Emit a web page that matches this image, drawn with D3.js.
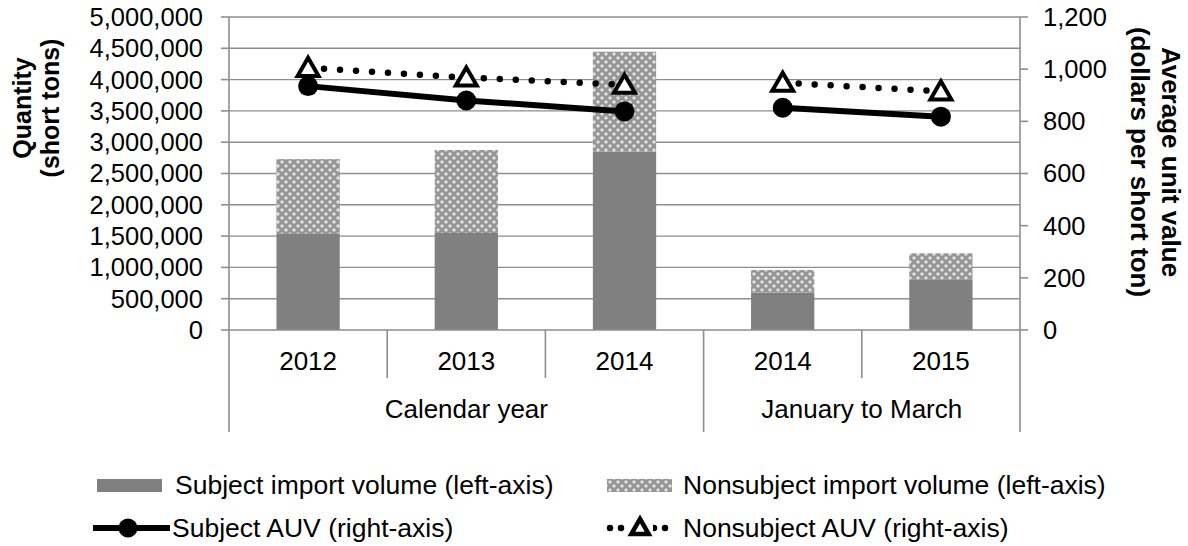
<!DOCTYPE html>
<html><head><meta charset="utf-8">
<script src="https://cdn.jsdelivr.net/npm/d3@7"></script>
<style>
body{margin:0;background:#fff}
text{font-family:"Liberation Sans",Arial,sans-serif;fill:#000}
</style>
</head><body>
<svg id="c" width="1188" height="546"></svg>
<script>
// ---- data ----
const categories = ["2012", "2013", "2014", "2014", "2015"];
const groupLabels = ["Calendar year", "January to March"];
const groupSizes = [3, 2];
const subjectVolume = [1545000, 1550000, 2850000, 600000, 810000];
const nonsubjectVolume = [1185000, 1325000, 1596000, 358000, 415000];
const subjectAUV = [935, 880, 838, 852, 818];
const nonsubjectAUV = [1005, 968, 940, 948, 915];
const leftTicks = [0, 500000, 1000000, 1500000, 2000000, 2500000, 3000000, 3500000, 4000000, 4500000, 5000000];
const rightTicks = [0, 200, 400, 600, 800, 1000, 1200];
const legendLabels = ["Subject import volume (left-axis)", "Nonsubject import volume (left-axis)", "Subject AUV (right-axis)", "Nonsubject AUV (right-axis)"];

// ---- layout ----
const L = 229, R = 1020, T = 17, B = 330;
const svg = d3.select("#c");
const idx = categories.map((d, i) => i);
const x = d3.scaleBand().domain(idx).range([L, R]).paddingInner(0.6).paddingOuter(0.3);
const step = x.step();
const yL = d3.scaleLinear().domain([0, 5000000]).range([B, T]);
const yR = d3.scaleLinear().domain([0, 1200]).range([B, T]);
const grid = "#8e8e8e";
const fmt = d3.format(",");

// pattern
const defs = svg.append("defs");
const pat = defs.append("pattern").attr("id", "conf").attr("patternUnits", "userSpaceOnUse")
  .attr("width", 8).attr("height", 8);
pat.append("rect").attr("width", 8).attr("height", 8).attr("fill", "#969696");
pat.append("path").attr("d", "M2 0.5L3.5 2L2 3.5L0.5 2Z").attr("fill", "#e2e2e2");
pat.append("path").attr("d", "M6 4.5L7.5 6L6 7.5L4.5 6Z").attr("fill", "#e2e2e2");
pat.append("rect").attr("x", 1.5).attr("y", 0).attr("width", 1).attr("height", 4).attr("fill", "#e2e2e2");
pat.append("rect").attr("x", 0).attr("y", 1.5).attr("width", 4).attr("height", 1).attr("fill", "#e2e2e2");
pat.append("rect").attr("x", 5.5).attr("y", 4).attr("width", 1).attr("height", 4).attr("fill", "#e2e2e2");
pat.append("rect").attr("x", 4).attr("y", 5.5).attr("width", 4).attr("height", 1).attr("fill", "#e2e2e2");

// gridlines
svg.append("g").selectAll("line").data(leftTicks.filter(d => d > 0)).join("line")
  .attr("x1", L).attr("x2", R).attr("y1", d => yL(d)).attr("y2", d => yL(d))
  .attr("stroke", grid).attr("stroke-width", 1.4);

// bars
const bars = svg.append("g");
bars.selectAll(".s").data(idx).join("rect").attr("class", "s")
  .attr("x", i => x(i)).attr("width", x.bandwidth())
  .attr("y", i => yL(subjectVolume[i])).attr("height", i => B - yL(subjectVolume[i]))
  .attr("fill", "#808080");
bars.selectAll(".n").data(idx).join("rect").attr("class", "n")
  .attr("x", i => x(i)).attr("width", x.bandwidth())
  .attr("y", i => yL(subjectVolume[i] + nonsubjectVolume[i]))
  .attr("height", i => yL(subjectVolume[i]) - yL(subjectVolume[i] + nonsubjectVolume[i]))
  .attr("fill", "url(#conf)");

// axes lines
const ax = svg.append("g").attr("stroke", grid).attr("stroke-width", 1.6);
ax.append("line").attr("x1", L).attr("x2", R).attr("y1", B).attr("y2", B);
ax.append("line").attr("x1", L).attr("x2", L).attr("y1", T).attr("y2", 432);
ax.append("line").attr("x1", R).attr("x2", R).attr("y1", T).attr("y2", 432);
leftTicks.forEach(t => ax.append("line").attr("x1", L - 8).attr("x2", L).attr("y1", yL(t)).attr("y2", yL(t)));
rightTicks.forEach(t => ax.append("line").attr("x1", R).attr("x2", R + 8).attr("y1", yR(t)).attr("y2", yR(t)));
// category boundaries
let acc = 0;
const groupBounds = [];
groupSizes.forEach((n, g) => {
  const start = acc, end = acc + n;
  groupBounds.push([start, end]);
  for (let k = start + 1; k < end; k++) {
    const bx = L + step * k;
    ax.append("line").attr("x1", bx).attr("x2", bx).attr("y1", B).attr("y2", 378);
  }
  if (end < categories.length) {
    const bx = L + step * end;
    ax.append("line").attr("x1", bx).attr("x2", bx).attr("y1", B).attr("y2", 432);
  }
  acc = end;
});

// tick labels
svg.append("g").selectAll("text").data(leftTicks).join("text")
  .attr("x", 203).attr("y", d => yL(d)).attr("dy", "0.35em").attr("text-anchor", "end")
  .attr("font-size", 25.5).text(d => fmt(d));
svg.append("g").selectAll("text").data(rightTicks).join("text")
  .attr("x", 1043).attr("y", d => yR(d)).attr("dy", "0.35em").attr("text-anchor", "start")
  .attr("font-size", 25.5).text(d => fmt(d));
svg.append("g").selectAll("text").data(idx).join("text")
  .attr("x", i => x(i) + x.bandwidth() / 2).attr("y", 370).attr("text-anchor", "middle")
  .attr("font-size", 26).text(i => categories[i]);
svg.append("g").selectAll("text").data(groupBounds).join("text")
  .attr("x", d => L + step * (d[0] + d[1]) / 2).attr("y", 418).attr("text-anchor", "middle")
  .attr("font-size", 26).text((d, g) => groupLabels[g]);

// axis titles
const lt = svg.append("text").attr("transform", "translate(0,108) rotate(-90)")
  .attr("text-anchor", "middle").attr("font-size", 25).attr("font-weight", "bold");
lt.append("tspan").attr("x", 0).attr("y", 31).text("Quantity");
lt.append("tspan").attr("x", 0).attr("y", 59).text("(short tons)");
const rt = svg.append("text").attr("transform", "translate(1188,162) rotate(90)")
  .attr("text-anchor", "middle").attr("font-size", 26).attr("font-weight", "bold");
rt.append("tspan").attr("x", 0).attr("y", 26).text("Average unit value");
rt.append("tspan").attr("x", 0).attr("y", 57).text("(dollars per short ton)");

// lines
const cx = i => x(i) + x.bandwidth() / 2;
const lineS = d3.line().x(i => cx(i)).y(i => yR(subjectAUV[i]));
const lineN = d3.line().x(i => cx(i)).y(i => yR(nonsubjectAUV[i]));
const segs = groupBounds.map(([s, e]) => d3.range(s, e));
const tri = d3.symbol().type(d3.symbolTriangle).size(190);

segs.forEach(seg => {
  svg.append("path").attr("d", lineN(seg)).attr("fill", "none").attr("stroke", "#000")
    .attr("stroke-width", 6.5).attr("stroke-linecap", "round").attr("stroke-dasharray", "0 16");
});
segs.forEach(seg => {
  svg.append("path").attr("d", lineS(seg)).attr("fill", "none").attr("stroke", "#000")
    .attr("stroke-width", 6);
});
svg.append("g").selectAll("circle").data(idx).join("circle")
  .attr("cx", cx).attr("cy", i => yR(subjectAUV[i])).attr("r", 10).attr("fill", "#000");
svg.append("g").selectAll("path").data(idx).join("path")
  .attr("transform", i => `translate(${cx(i)},${yR(nonsubjectAUV[i]) + 2})`)
  .attr("d", tri).attr("fill", "#fff").attr("stroke", "#000").attr("stroke-width", 4)
  .attr("stroke-linejoin", "miter");

// legend
const lg = svg.append("g");
const row1 = 485, row2 = 528, fs = 26.5;
lg.append("rect").attr("x", 97).attr("y", row1 - 6).attr("width", 65).attr("height", 13).attr("fill", "#808080");
lg.append("text").attr("x", 175).attr("y", row1).attr("dy", "0.35em").attr("font-size", fs).text(legendLabels[0]);
lg.append("rect").attr("x", 607).attr("y", row1 - 6).attr("width", 65).attr("height", 13).attr("fill", "url(#conf)");
lg.append("text").attr("x", 683).attr("y", row1).attr("dy", "0.35em").attr("font-size", fs).text(legendLabels[1]);
lg.append("line").attr("x1", 93).attr("x2", 170).attr("y1", row2).attr("y2", row2).attr("stroke", "#000").attr("stroke-width", 6);
lg.append("circle").attr("cx", 128).attr("cy", row2).attr("r", 9.5).attr("fill", "#000");
lg.append("text").attr("x", 172).attr("y", row2).attr("dy", "0.35em").attr("font-size", fs).text(legendLabels[2]);
lg.append("line").attr("x1", 610).attr("x2", 676).attr("y1", row2).attr("y2", row2).attr("stroke", "#000")
  .attr("stroke-width", 6.5).attr("stroke-linecap", "round").attr("stroke-dasharray", "0 11");
lg.append("rect").attr("x", 627).attr("y", row2 - 12).attr("width", 26).attr("height", 24).attr("fill", "#fff");
lg.append("path").attr("transform", `translate(640,${row2 + 1})`).attr("d", d3.symbol().type(d3.symbolTriangle).size(130))
  .attr("fill", "#fff").attr("stroke", "#000").attr("stroke-width", 4.5);
lg.append("text").attr("x", 683).attr("y", row2).attr("dy", "0.35em").attr("font-size", fs).text(legendLabels[3]);
</script>
</body></html>
